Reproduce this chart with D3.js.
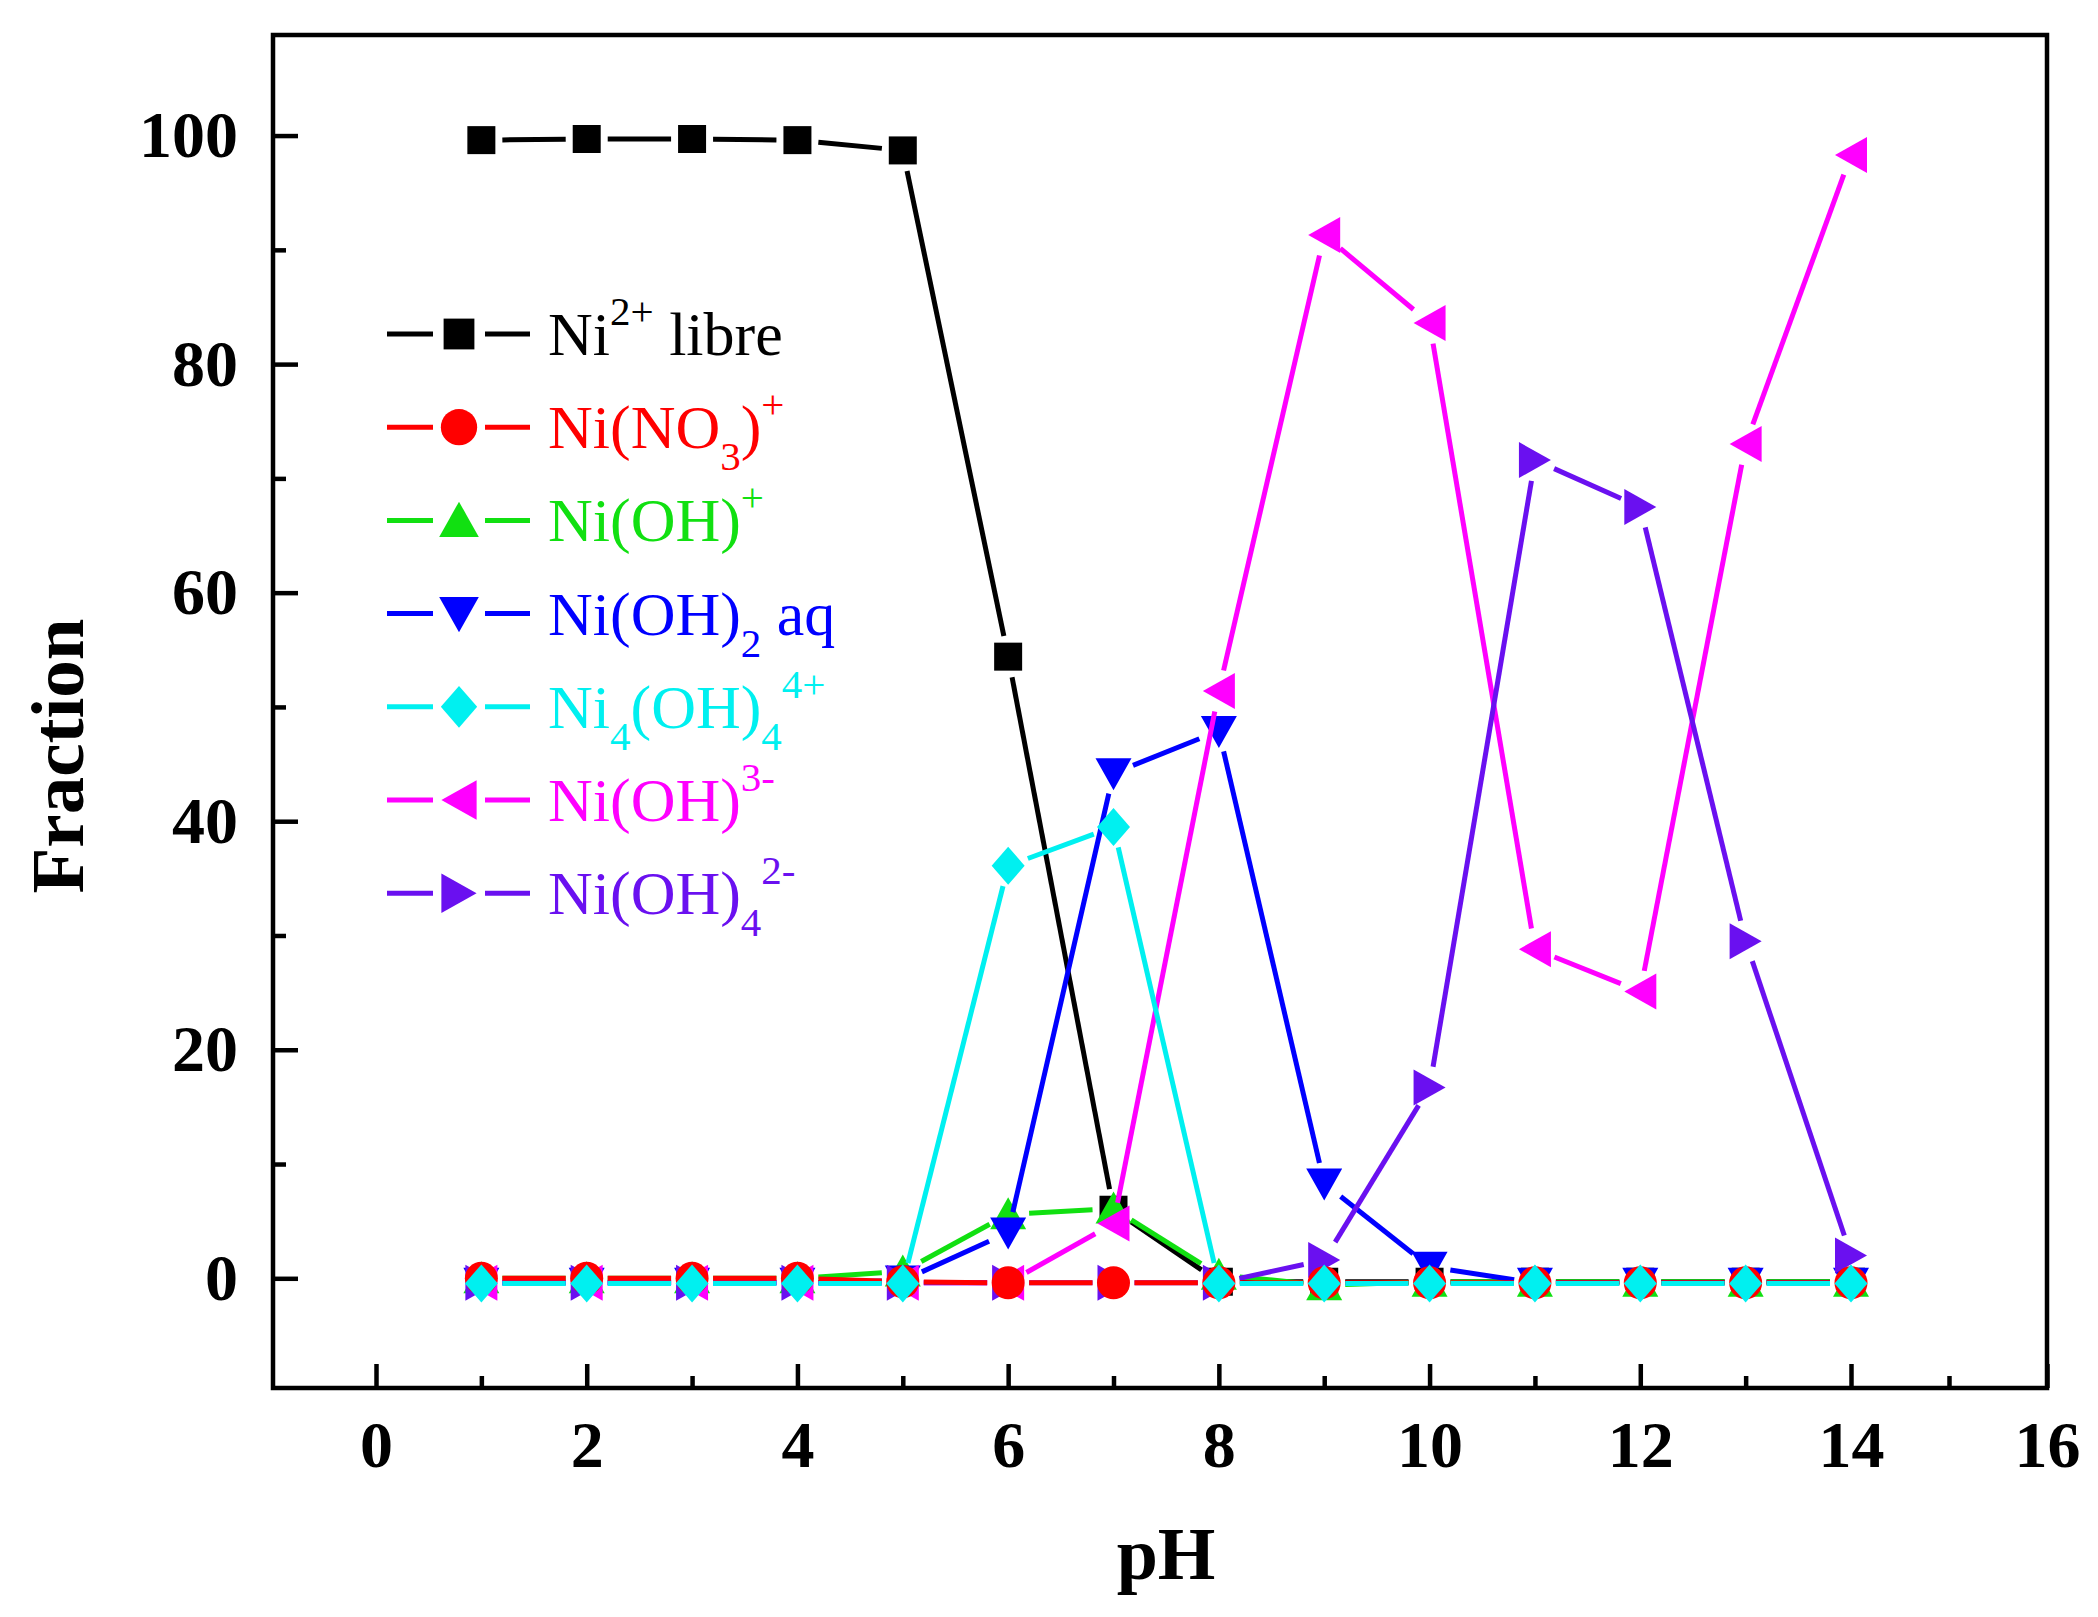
<!DOCTYPE html>
<html><head><meta charset="utf-8">
<script src="https://cdn.jsdelivr.net/npm/d3@7"></script>
<style>body{margin:0;background:#fff}svg{display:block}</style>
</head><body>
<svg id="c" width="2098" height="1617"></svg>
<script>
// ---------- data ----------
const pH = [1,2,3,4,5,6,7,8,9,10,11,12,13,14];
const niFree  = [99.6,99.7,99.7,99.6,98.7,54.4,6.0,-0.3,-0.3,-0.3,-0.3,-0.3,-0.3,-0.3];
const niNO3   = [0,0,0,0,-0.3,-0.4,-0.4,-0.4,-0.4,-0.4,-0.4,-0.4,-0.4,-0.4];
const niOH    = [0,0,0,0,0.6,5.6,6.1,0.3,-0.6,-0.3,-0.3,-0.3,-0.3,-0.3];
const niOH2   = [-0.4,-0.4,-0.4,-0.4,-0.2,4.0,44.2,47.9,8.3,1.0,-0.4,-0.4,-0.4,-0.4];
const ni4OH4  = [-0.45,-0.45,-0.45,-0.45,-0.45,36.1,39.5,-0.45,-0.45,-0.45,-0.45,-0.45,-0.45,-0.45];
const niOH3   = [-0.4,-0.4,-0.4,-0.4,-0.4,-0.4,4.8,51.4,91.3,83.6,28.8,25.1,73.0,98.3];
const niOH4   = [-0.4,-0.4,-0.4,-0.4,-0.4,-0.4,-0.4,-0.4,1.6,16.7,71.6,67.5,29.5,2.0];

const seriesValues = [niFree, niNO3, niOH, niOH2, ni4OH4, niOH3, niOH4];
const seriesColors = ["#000000","#ff0000","#11e011","#0000ff","#00f0f0","#ff00ff","#6a10f0"];
const seriesSymbols = ["square","circle","up","down","diamond","left","right"];
const seriesLabels = [
  [["Ni"],["2+","sup"],[" libre"]],
  [["Ni(NO"],["3","sub"],[")"],["+","sup"]],
  [["Ni(OH)"],["+","sup"]],
  [["Ni(OH)"],["2","sub"],[" aq"]],
  [["Ni"],["4","sub"],["(OH)"],["4","sub"],["4+","sup"]],
  [["Ni(OH)"],["3-","sup"]],
  [["Ni(OH)"],["4","sub"],["2-","sup"]]
];
const drawOrder = [0,2,3,5,6,1,4];

const xTicks = [0,2,4,6,8,10,12,14,16];
const xMinor = [1,3,5,7,9,11,13,15];
const yTicks = [0,20,40,60,80,100];
const yMinor = [10,30,50,70,90];

// ---------- layout ----------
const svg = d3.select("#c");
const X0 = 273, X1 = 2047, Y0 = 35, Y1 = 1388;
const x = d3.scaleLinear().domain([-1,0,14,16]).range([X0,376,1851,X1]);
const y = d3.scaleLinear().domain([-9.6,108.8]).range([Y1,Y0]);
const serif = "'Liberation Serif','Times New Roman',Times,serif";
const LW = 5;

svg.append("rect").attr("width",2098).attr("height",1617).attr("fill","#fff");

// symbols (custom d3 symbol types)
function poly(pts){return {draw(c){c.moveTo(pts[0][0],pts[0][1]);for(let i=1;i<pts.length;i++)c.lineTo(pts[i][0],pts[i][1]);c.closePath();}};}
const shapeTypes = {
  square: poly([[-14,-14],[14,-14],[14,14],[-14,14]]),
  circle: {draw(c){c.moveTo(16.5,0);c.arc(0,0,16.5,0,2*Math.PI);}},
  up: poly([[0,-17],[18,15],[-18,15]]),
  down: poly([[0,17],[18,-15],[-18,-15]]),
  diamond: poly([[0,-19],[16.5,0],[0,19],[-16.5,0]]),
  left: poly([[-16,0],[16,-18],[16,18]]),
  right: poly([[16,0],[-16,-18],[-16,18]])
};
const GAP = 21;

// ---------- axes ----------
const gx = svg.append("g").attr("transform",`translate(0,${Y1})`);
gx.call(d3.axisBottom(x).tickValues(xTicks).tickSizeInner(-24).tickSizeOuter(0).tickPadding(32).tickFormat(d3.format("d")));
const gxm = svg.append("g").attr("transform",`translate(0,${Y1})`);
gxm.call(d3.axisBottom(x).tickValues(xMinor).tickSizeInner(-12).tickSizeOuter(0).tickFormat(""));
const gy = svg.append("g").attr("transform",`translate(${X0},0)`);
gy.call(d3.axisLeft(y).tickValues(yTicks).tickSizeInner(-25).tickSizeOuter(0).tickPadding(35).tickFormat(d3.format("d")));
const gym = svg.append("g").attr("transform",`translate(${X0},0)`);
gym.call(d3.axisLeft(y).tickValues(yMinor).tickSizeInner(-13).tickSizeOuter(0).tickFormat(""));
[gx,gxm,gy,gym].forEach(g=>{
  g.select(".domain").remove();
  g.selectAll(".tick line").attr("stroke","#000").attr("stroke-width",4.5);
  g.selectAll(".tick text").attr("fill","#000").style("font-family",serif).style("font-weight","bold").style("font-size","66px");
});

// frame
svg.append("rect").attr("x",X0).attr("y",Y0).attr("width",X1-X0).attr("height",Y1-Y0)
  .attr("fill","none").attr("stroke","#000").attr("stroke-width",4.5);

// axis titles
svg.append("text").attr("transform","translate(83,756) rotate(-90)").attr("text-anchor","middle")
  .style("font-family",serif).style("font-weight","bold").style("font-size","75px").text("Fraction");
svg.append("text").attr("x",1166).attr("y",1579).attr("text-anchor","middle")
  .style("font-family",serif).style("font-weight","bold").style("font-size","74px").text("pH");

// ---------- series ----------
const plot = svg.append("g");
drawOrder.forEach(si=>{
  const vals = seriesValues[si], col = seriesColors[si];
  const pts = pH.map((p,i)=>[x(p),y(vals[i])]);
  const segs = [];
  for(let i=0;i<pts.length-1;i++){
    const [x0,y0]=pts[i],[x1,y1]=pts[i+1];
    const dx=x1-x0, dy=y1-y0, d=Math.hypot(dx,dy);
    if(d>2*GAP){const ux=dx/d, uy=dy/d; segs.push([x0+ux*GAP,y0+uy*GAP,x1-ux*GAP,y1-uy*GAP]);}
  }
  const g = plot.append("g");
  g.selectAll("line").data(segs).join("line")
    .attr("x1",d=>d[0]).attr("y1",d=>d[1]).attr("x2",d=>d[2]).attr("y2",d=>d[3])
    .attr("stroke",col).attr("stroke-width",LW);
  const sym = d3.symbol().type(shapeTypes[seriesSymbols[si]]);
  g.selectAll("path").data(pts).join("path")
    .attr("transform",d=>`translate(${d[0]},${d[1]})`).attr("d",sym()).attr("fill",col);
});

// ---------- legend ----------
const leg = svg.append("g");
seriesLabels.forEach((parts,i)=>{
  const cy = 334 + i*93.2, col = seriesColors[i];
  const r = leg.append("g");
  r.append("line").attr("x1",387).attr("x2",433).attr("y1",cy).attr("y2",cy).attr("stroke",col).attr("stroke-width",LW);
  r.append("line").attr("x1",485).attr("x2",530).attr("y1",cy).attr("y2",cy).attr("stroke",col).attr("stroke-width",LW);
  r.append("path").attr("transform",`translate(459,${cy}) scale(1.1)`).attr("d",d3.symbol().type(shapeTypes[seriesSymbols[i]])()).attr("fill",col);
  const t = r.append("text").attr("x",548).attr("y",cy+21).attr("fill",col)
    .style("font-family",serif).style("font-size","62px");
  let cur = 0;
  parts.forEach(p=>{
    const kind = p[1]||"";
    const target = kind==="sup" ? -30 : kind==="sub" ? 22 : 0;
    const ts = t.append("tspan").attr("dy",target-cur).text(p[0]).style("white-space","pre");
    if(kind) ts.style("font-size","41px");
    cur = target;
  });
});
</script>
</body></html>
